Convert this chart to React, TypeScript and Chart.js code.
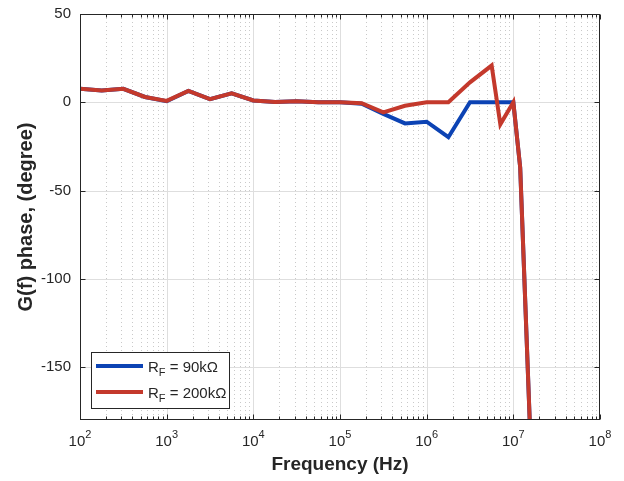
import React, { useEffect, useRef } from "react";
import { Chart, registerables } from "chart.js";

Chart.register(...registerables);

const FREQ_BLUE = [1e2, 1.78e2, 3.16e2, 5.62e2, 1e3, 1.78e3, 3.16e3, 5.62e3, 1e4, 1.78e4, 3.16e4, 5.62e4, 1e5, 1.78e5, 3.16e5, 5.62e5, 1e6, 1.78e6, 3.16e6, 5.62e6, 1e7, 1.2e7, 1.6e7];
const PHASE_BLUE = [7.6, 6.6, 7.6, 3.0, 0.6, 6.4, 1.8, 5.0, 1.0, 0.2, 0.6, 0, 0, -0.8, -6.6, -12, -11, -19.8, 0, 0, 0, -37, -200];

const FREQ_RED = [1e2, 1.78e2, 3.16e2, 5.62e2, 1e3, 1.78e3, 3.16e3, 5.62e3, 1e4, 1.78e4, 3.16e4, 5.62e4, 1e5, 1.78e5, 3.16e5, 5.62e5, 1e6, 1.78e6, 3.16e6, 5.62e6, 7.08e6, 1e7, 1.2e7, 1.6e7];
const PHASE_RED = [7.6, 6.6, 7.6, 3.0, 0.8, 6.4, 1.8, 5.0, 1.0, 0.2, 0.6, 0, 0, -0.5, -5.7, -2, 0, 0, 11.3, 20.8, -12.5, 0, -37, -200];

const X_DECADES = [2, 3, 4, 5, 6, 7, 8];
const Y_TICKS = [-150, -100, -50, 0, 50];
const Y_MIN = -180;
const Y_MAX = 50;

const LEGEND_ITEMS = [
  { sub: "F", rest: " = 90k\u03A9" },
  { sub: "F", rest: " = 200k\u03A9" },
];

const BLUE = "#0c43b4";
const RED = "#c4392c";
const AXIS = "#262626";
const FONT = "'Liberation Sans', Arial, Helvetica, sans-serif";

const matlabPlugin = {
  id: "matlabDecor",
  beforeDatasetsDraw(chart: any) {
    const { ctx, chartArea, scales } = chart;
    const { left, right, top, bottom } = chartArea;
    const x = scales.x;
    const y = scales.y;
    ctx.save();
    ctx.lineWidth = 1;
    ctx.strokeStyle = "rgba(38,38,38,0.25)";
    ctx.setLineDash([1, 3]);
    for (let i = 0; i < X_DECADES.length - 1; i++) {
      for (let m = 2; m <= 9; m++) {
        const px = Math.round(x.getPixelForValue(m * Math.pow(10, X_DECADES[i]))) + 0.5;
        ctx.beginPath();
        ctx.moveTo(px, top);
        ctx.lineTo(px, bottom);
        ctx.stroke();
      }
    }
    ctx.setLineDash([]);
    ctx.strokeStyle = "#dedede";
    for (const d of X_DECADES) {
      const px = Math.round(x.getPixelForValue(Math.pow(10, d))) + 0.5;
      if (px <= left + 1 || px >= right - 1) continue;
      ctx.beginPath();
      ctx.moveTo(px, top);
      ctx.lineTo(px, bottom);
      ctx.stroke();
    }
    for (const v of Y_TICKS) {
      const py = Math.round(y.getPixelForValue(v)) + 0.5;
      if (py <= top + 1 || py >= bottom - 1) continue;
      ctx.beginPath();
      ctx.moveTo(left, py);
      ctx.lineTo(right, py);
      ctx.stroke();
    }
    ctx.restore();
  },
  afterDatasetsDraw(chart: any) {
    const { ctx, chartArea, scales } = chart;
    const { left, right, top, bottom } = chartArea;
    const x = scales.x;
    const y = scales.y;
    ctx.save();
    ctx.setLineDash([]);
    ctx.strokeStyle = AXIS;
    ctx.lineWidth = 1;
    const L = Math.round(left) + 0.5;
    const R = Math.round(right) - 0.5;
    const T = Math.round(top) + 0.5;
    const B = Math.round(bottom) - 0.5;
    ctx.strokeRect(L, T, R - L, B - T);
    ctx.beginPath();
    for (let i = 0; i < X_DECADES.length; i++) {
      const d = X_DECADES[i];
      const px = Math.round(x.getPixelForValue(Math.pow(10, d))) + 0.5;
      ctx.moveTo(px, B); ctx.lineTo(px, B - 5);
      ctx.moveTo(px, T); ctx.lineTo(px, T + 5);
      if (i < X_DECADES.length - 1) {
        for (let m = 2; m <= 9; m++) {
          const mx = Math.round(x.getPixelForValue(m * Math.pow(10, d))) + 0.5;
          ctx.moveTo(mx, B); ctx.lineTo(mx, B - 3);
          ctx.moveTo(mx, T); ctx.lineTo(mx, T + 3);
        }
      }
    }
    for (const v of Y_TICKS) {
      const py = Math.round(y.getPixelForValue(v)) + 0.5;
      ctx.moveTo(L, py); ctx.lineTo(L + 5, py);
      ctx.moveTo(R, py); ctx.lineTo(R - 5, py);
    }
    ctx.stroke();

    ctx.fillStyle = AXIS;
    ctx.textBaseline = "alphabetic";
    ctx.textAlign = "left";
    const baseFont = `15px ${FONT}`;
    const expFont = `11px ${FONT}`;
    for (const d of X_DECADES) {
      const px = x.getPixelForValue(Math.pow(10, d));
      ctx.font = baseFont;
      const wb = ctx.measureText("10").width;
      ctx.font = expFont;
      const we = ctx.measureText(String(d)).width;
      const sx = px - (wb + we) / 2;
      ctx.font = baseFont;
      ctx.fillText("10", sx, bottom + 26);
      ctx.font = expFont;
      ctx.fillText(String(d), sx + wb, bottom + 18);
    }

    const lx = left + 11;
    const ly = bottom - 68;
    const lw = 138;
    const lh = 56;
    ctx.fillStyle = "#ffffff";
    ctx.fillRect(lx, ly, lw, lh);
    ctx.strokeStyle = AXIS;
    ctx.lineWidth = 1;
    ctx.strokeRect(Math.round(lx) + 0.5, Math.round(ly) + 0.5, lw, lh);
    const colors = chart.data.datasets.map((ds: any) => ds.borderColor);
    const legendColors = [colors[1], colors[0]];
    LEGEND_ITEMS.forEach((item, i) => {
      const cy = ly + 14 + i * 26;
      ctx.strokeStyle = legendColors[i];
      ctx.lineWidth = 4;
      ctx.beginPath();
      ctx.moveTo(lx + 5, cy);
      ctx.lineTo(lx + 52, cy);
      ctx.stroke();
      ctx.fillStyle = AXIS;
      ctx.font = `15px ${FONT}`;
      const tx = lx + 57;
      ctx.fillText("R", tx, cy + 6);
      const wR = ctx.measureText("R").width;
      ctx.font = `11px ${FONT}`;
      ctx.fillText(item.sub, tx + wR, cy + 10);
      const wS = ctx.measureText(item.sub).width;
      ctx.font = `15px ${FONT}`;
      ctx.fillText(item.rest, tx + wR + wS, cy + 6);
    });
    ctx.restore();
  },
};

export default function App() {
  const ref = useRef<HTMLCanvasElement | null>(null);
  useEffect(() => {
    document.body.style.margin = "0";
    const canvas = ref.current;
    if (!canvas) return;
    const blue = FREQ_BLUE.map((f, i) => ({ x: f, y: PHASE_BLUE[i] }));
    const red = FREQ_RED.map((f, i) => ({ x: f, y: PHASE_RED[i] }));
    const chart = new Chart(canvas, {
      type: "line",
      data: {
        datasets: [
          { label: "R_F = 200k\u03A9", data: red, borderColor: RED, borderWidth: 4, pointRadius: 0, fill: false, tension: 0, order: 0 },
          { label: "R_F = 90k\u03A9", data: blue, borderColor: BLUE, borderWidth: 4, pointRadius: 0, fill: false, tension: 0, order: 1 },
        ],
      },
      options: {
        animation: false,
        responsive: false,
        maintainAspectRatio: false,
        layout: { padding: { top: 14, right: 24, left: 0, bottom: 0 } },
        plugins: { legend: { display: false }, tooltip: { enabled: false } },
        scales: {
          x: {
            type: "logarithmic",
            min: 1e2,
            max: 1e8,
            grid: { display: false, drawTicks: false },
            border: { display: false },
            ticks: { display: false },
            title: {
              display: true,
              text: "Frequency (Hz)",
              color: AXIS,
              font: { family: FONT, size: 19, weight: "bold" },
              padding: { top: 0, bottom: 5 },
            },
            afterFit: (s: any) => { s.height = 61; s.paddingLeft = 0; s.paddingRight = 0; },
          },
          y: {
            type: "linear",
            min: Y_MIN,
            max: Y_MAX,
            grid: { display: false, drawTicks: false },
            border: { display: false },
            ticks: {
              stepSize: 50,
              padding: 9,
              color: AXIS,
              font: { family: FONT, size: 15 },
              callback: (v: any) => (Y_TICKS.includes(Number(v)) ? String(v) : ""),
            },
            title: {
              display: true,
              text: "G(f) phase, (degree)",
              color: AXIS,
              font: { family: FONT, size: 20, weight: "bold" },
              padding: { top: 14, bottom: 0 },
            },
            afterFit: (s: any) => { s.width = 80; s.paddingTop = 0; s.paddingBottom = 0; },
          },
        },
      },
      plugins: [matlabPlugin],
    });
    return () => chart.destroy();
  }, []);
  return (
    <div style={{ width: 624, height: 481 }}>
      <canvas ref={ref} width={624} height={481} style={{ display: "block" }} />
    </div>
  );
}
